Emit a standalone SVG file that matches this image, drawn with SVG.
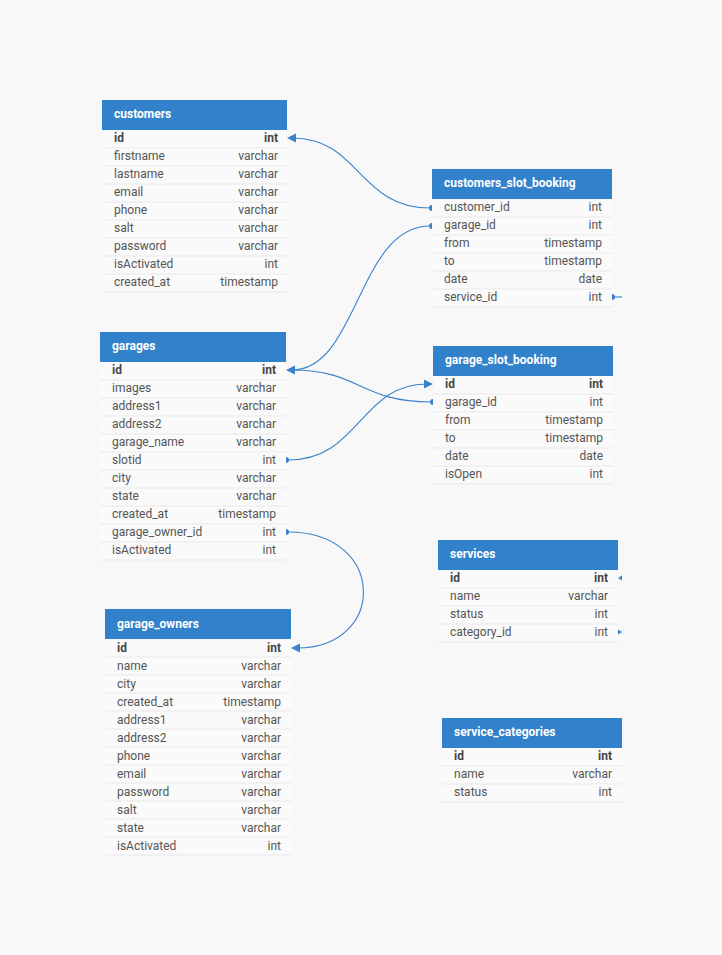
<svg xmlns="http://www.w3.org/2000/svg" width="722" height="955" viewBox="0 0 722 955">
<style>
text{font-family:Roboto,"Liberation Sans",sans-serif;font-size:12px;fill:#555}
.h{fill:#3281cb}
.ht{fill:#fff;font-weight:bold}
.pk{font-weight:bold;fill:#444}
.r{text-anchor:end}
.row{fill:#fafafa}
.sep{stroke:#e9e9e9;stroke-width:1}
.c{fill:none;stroke:#3a82cc;stroke-width:1.1}
.m{fill:#3a82cc}
.t{transform:translateY(-1px)}
</style>
<rect width="722" height="955" fill="#f8f8f8"/>
<g id="connectors">
<path class="c" d="M430,208 C359,208 359,138 293,138"/>
<path class="c" d="M430,226 C358,226 358,370 292,370"/>
<path class="c" d="M431,402 C360,402 360,370 292,370"/>
<path class="c" d="M288,460 C360,460 360,384 427,384"/>
<path class="c" d="M288,532 C387,532 387,648 297,648"/>
<path class="c" d="M614,297 L622,297"/>
<polygon class="m" points="287,138 296,133.5 296,142.5"/>
<polygon class="m" points="286,370 295,365.5 295,374.5"/>
<polygon class="m" points="433,384 424,379.5 424,388.5"/>
<polygon class="m" points="291,648 300,643.5 300,652.5"/>
<path class="m" d="M432,205 A3,3 0 0 0 432,211 Z"/>
<path class="m" d="M432,223 A3,3 0 0 0 432,229 Z"/>
<path class="m" d="M433,399 A3,3 0 0 0 433,405 Z"/>
<path class="m" d="M286,457 A3,3 0 0 1 286,463 Z"/>
<path class="m" d="M286,529 A3,3 0 0 1 286,535 Z"/>
<path class="m" d="M612,294 A3,3 0 0 1 612,300 Z"/>
<polygon class="m" points="618,578 622,575.5 622,580.5"/>
<polygon class="m" points="618,629.5 622,632 618,634.5"/>
</g>
<g id="customers">
<rect class="h" x="102" y="100" width="185" height="30"/>
<text class="ht" x="114" y="118">customers</text>
<rect class="row" x="102" y="130" width="185" height="162"/>
<g class="sep"><line x1="102" y1="148" x2="287" y2="148"/><line x1="102" y1="166" x2="287" y2="166"/><line x1="102" y1="184" x2="287" y2="184"/><line x1="102" y1="202" x2="287" y2="202"/><line x1="102" y1="220" x2="287" y2="220"/><line x1="102" y1="238" x2="287" y2="238"/><line x1="102" y1="256" x2="287" y2="256"/><line x1="102" y1="274" x2="287" y2="274"/><line x1="102" y1="292" x2="287" y2="292"/></g>
<g class="t">
<text class="pk" x="114" y="143">id</text><text class="pk r" x="278" y="143">int</text>
<text x="114" y="161">firstname</text><text class="r" x="278" y="161">varchar</text>
<text x="114" y="179">lastname</text><text class="r" x="278" y="179">varchar</text>
<text x="114" y="197">email</text><text class="r" x="278" y="197">varchar</text>
<text x="114" y="215">phone</text><text class="r" x="278" y="215">varchar</text>
<text x="114" y="233">salt</text><text class="r" x="278" y="233">varchar</text>
<text x="114" y="251">password</text><text class="r" x="278" y="251">varchar</text>
<text x="114" y="269">isActivated</text><text class="r" x="278" y="269">int</text>
<text x="114" y="287">created_at</text><text class="r" x="278" y="287">timestamp</text>
</g>
</g>
<g id="customers_slot_booking">
<rect class="h" x="432" y="169" width="180" height="30"/>
<text class="ht" x="444" y="187">customers_slot_booking</text>
<rect class="row" x="432" y="199" width="180" height="108"/>
<g class="sep"><line x1="432" y1="217" x2="612" y2="217"/><line x1="432" y1="235" x2="612" y2="235"/><line x1="432" y1="253" x2="612" y2="253"/><line x1="432" y1="271" x2="612" y2="271"/><line x1="432" y1="289" x2="612" y2="289"/><line x1="432" y1="307" x2="612" y2="307"/></g>
<g class="t">
<text x="444" y="212">customer_id</text><text class="r" x="602" y="212">int</text>
<text x="444" y="230">garage_id</text><text class="r" x="602" y="230">int</text>
<text x="444" y="248">from</text><text class="r" x="602" y="248">timestamp</text>
<text x="444" y="266">to</text><text class="r" x="602" y="266">timestamp</text>
<text x="444" y="284">date</text><text class="r" x="602" y="284">date</text>
<text x="444" y="302">service_id</text><text class="r" x="602" y="302">int</text>
</g>
</g>
<g id="garages">
<rect class="h" x="100" y="332" width="186" height="30"/>
<text class="ht" x="112" y="350">garages</text>
<rect class="row" x="100" y="362" width="186" height="198"/>
<g class="sep"><line x1="100" y1="380" x2="286" y2="380"/><line x1="100" y1="398" x2="286" y2="398"/><line x1="100" y1="416" x2="286" y2="416"/><line x1="100" y1="434" x2="286" y2="434"/><line x1="100" y1="452" x2="286" y2="452"/><line x1="100" y1="470" x2="286" y2="470"/><line x1="100" y1="488" x2="286" y2="488"/><line x1="100" y1="506" x2="286" y2="506"/><line x1="100" y1="524" x2="286" y2="524"/><line x1="100" y1="542" x2="286" y2="542"/><line x1="100" y1="560" x2="286" y2="560"/></g>
<g class="t">
<text class="pk" x="112" y="375">id</text><text class="pk r" x="276" y="375">int</text>
<text x="112" y="393">images</text><text class="r" x="276" y="393">varchar</text>
<text x="112" y="411">address1</text><text class="r" x="276" y="411">varchar</text>
<text x="112" y="429">address2</text><text class="r" x="276" y="429">varchar</text>
<text x="112" y="447">garage_name</text><text class="r" x="276" y="447">varchar</text>
<text x="112" y="465">slotid</text><text class="r" x="276" y="465">int</text>
<text x="112" y="483">city</text><text class="r" x="276" y="483">varchar</text>
<text x="112" y="501">state</text><text class="r" x="276" y="501">varchar</text>
<text x="112" y="519">created_at</text><text class="r" x="276" y="519">timestamp</text>
<text x="112" y="537">garage_owner_id</text><text class="r" x="276" y="537">int</text>
<text x="112" y="555">isActivated</text><text class="r" x="276" y="555">int</text>
</g>
</g>
<g id="garage_slot_booking">
<rect class="h" x="433" y="346" width="180" height="30"/>
<text class="ht" x="445" y="364">garage_slot_booking</text>
<rect class="row" x="433" y="376" width="180" height="108"/>
<g class="sep"><line x1="433" y1="394" x2="613" y2="394"/><line x1="433" y1="412" x2="613" y2="412"/><line x1="433" y1="430" x2="613" y2="430"/><line x1="433" y1="448" x2="613" y2="448"/><line x1="433" y1="466" x2="613" y2="466"/><line x1="433" y1="484" x2="613" y2="484"/></g>
<g class="t">
<text class="pk" x="445" y="389">id</text><text class="pk r" x="603" y="389">int</text>
<text x="445" y="407">garage_id</text><text class="r" x="603" y="407">int</text>
<text x="445" y="425">from</text><text class="r" x="603" y="425">timestamp</text>
<text x="445" y="443">to</text><text class="r" x="603" y="443">timestamp</text>
<text x="445" y="461">date</text><text class="r" x="603" y="461">date</text>
<text x="445" y="479">isOpen</text><text class="r" x="603" y="479">int</text>
</g>
</g>
<g id="services">
<rect class="h" x="438" y="540" width="180" height="30"/>
<text class="ht" x="450" y="558">services</text>
<rect class="row" x="438" y="570" width="180" height="72"/>
<g class="sep"><line x1="438" y1="588" x2="618" y2="588"/><line x1="438" y1="606" x2="618" y2="606"/><line x1="438" y1="624" x2="618" y2="624"/><line x1="438" y1="642" x2="618" y2="642"/></g>
<g class="t">
<text class="pk" x="450" y="583">id</text><text class="pk r" x="608" y="583">int</text>
<text x="450" y="601">name</text><text class="r" x="608" y="601">varchar</text>
<text x="450" y="619">status</text><text class="r" x="608" y="619">int</text>
<text x="450" y="637">category_id</text><text class="r" x="608" y="637">int</text>
</g>
</g>
<g id="garage_owners">
<rect class="h" x="105" y="609" width="186" height="30"/>
<text class="ht" x="117" y="628">garage_owners</text>
<rect class="row" x="105" y="639" width="186" height="216"/>
<g class="sep"><line x1="105" y1="657" x2="291" y2="657"/><line x1="105" y1="675" x2="291" y2="675"/><line x1="105" y1="693" x2="291" y2="693"/><line x1="105" y1="711" x2="291" y2="711"/><line x1="105" y1="729" x2="291" y2="729"/><line x1="105" y1="747" x2="291" y2="747"/><line x1="105" y1="765" x2="291" y2="765"/><line x1="105" y1="783" x2="291" y2="783"/><line x1="105" y1="801" x2="291" y2="801"/><line x1="105" y1="819" x2="291" y2="819"/><line x1="105" y1="837" x2="291" y2="837"/><line x1="105" y1="855" x2="291" y2="855"/></g>
<text class="pk" x="117" y="652">id</text><text class="pk r" x="281" y="652">int</text>
<text x="117" y="670">name</text><text class="r" x="281" y="670">varchar</text>
<text x="117" y="688">city</text><text class="r" x="281" y="688">varchar</text>
<text x="117" y="706">created_at</text><text class="r" x="281" y="706">timestamp</text>
<text x="117" y="724">address1</text><text class="r" x="281" y="724">varchar</text>
<text x="117" y="742">address2</text><text class="r" x="281" y="742">varchar</text>
<text x="117" y="760">phone</text><text class="r" x="281" y="760">varchar</text>
<text x="117" y="778">email</text><text class="r" x="281" y="778">varchar</text>
<text x="117" y="796">password</text><text class="r" x="281" y="796">varchar</text>
<text x="117" y="814">salt</text><text class="r" x="281" y="814">varchar</text>
<text x="117" y="832">state</text><text class="r" x="281" y="832">varchar</text>
<text x="117" y="850">isActivated</text><text class="r" x="281" y="850">int</text>
</g>
<g id="service_categories">
<rect class="h" x="442" y="718" width="180" height="30"/>
<text class="ht" x="454" y="736">service_categories</text>
<rect class="row" x="442" y="748" width="180" height="54"/>
<g class="sep"><line x1="442" y1="766" x2="622" y2="766"/><line x1="442" y1="784" x2="622" y2="784"/><line x1="442" y1="802" x2="622" y2="802"/></g>
<g class="t">
<text class="pk" x="454" y="761">id</text><text class="pk r" x="612" y="761">int</text>
<text x="454" y="779">name</text><text class="r" x="612" y="779">varchar</text>
<text x="454" y="797">status</text><text class="r" x="612" y="797">int</text>
</g>
</g>
</svg>
